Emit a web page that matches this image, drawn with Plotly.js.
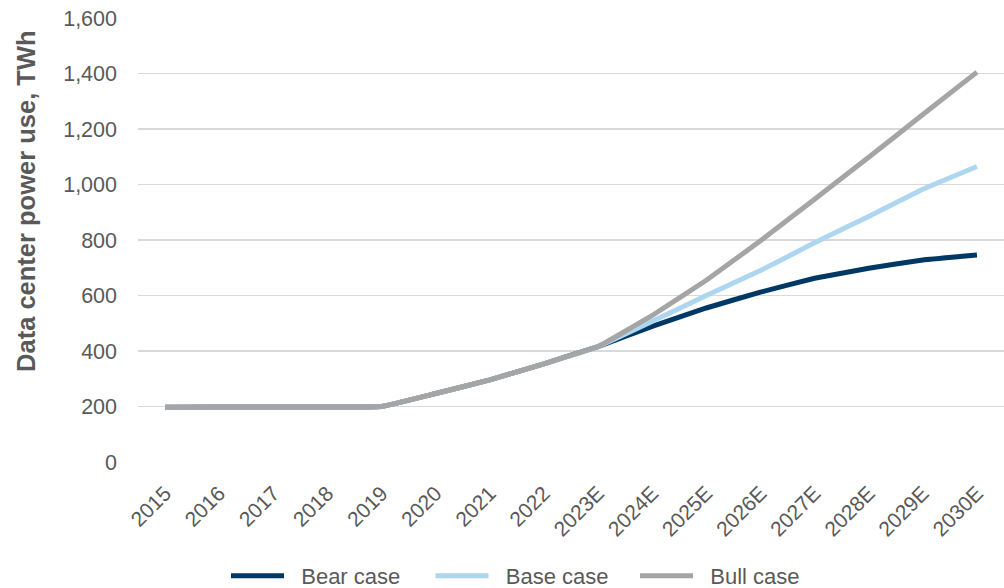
<!DOCTYPE html>
<html>
<head>
<meta charset="utf-8">
<script src="https://cdn.plot.ly/plotly-3.0.1.min.js"></script>
<style>html,body{margin:0;padding:0;background:#fff;}#chart{width:1004px;height:588px;}</style>
</head>
<body>
<div id="chart"></div>
<script>
const years = ["2015","2016","2017","2018","2019","2020","2021","2022","2023E","2024E","2025E","2026E","2027E","2028E","2029E","2030E"];
const bearCase = [197,198,198,198,200,247,296,354,416,489,555,612,662,698,728,746];
const baseCase = [197,198,198,198,200,247,296,354,416,507,600,690,790,885,983,1065];
const bullCase = [197,198,198,198,200,247,296,354,416,528,655,797,947,1098,1252,1405];
const seriesNames = ["Bear case","Base case","Bull case"];
const seriesColors = ["#003865","#AED6F1","#A5A5A5"];
const yTitle = "Data center power use, TWh";

const allSeries = [bearCase, baseCase, bullCase];
const traces = allSeries.map((vals, i) => ({
  type: "scatter",
  mode: "lines",
  x: years,
  y: vals,
  name: "\u00a0\u00a0" + seriesNames[i],
  line: {color: seriesColors[i], width: 5, shape: "spline", smoothing: 0.25},
  hoverinfo: "x+y+name"
}));

const layout = {
  width: 1004,
  height: 588,
  margin: {l: 138, r: 0, t: 18, b: 126},
  paper_bgcolor: "#ffffff",
  plot_bgcolor: "#ffffff",
  font: {family: "Arial, 'Liberation Sans', sans-serif", color: "#595959", size: 22},
  showlegend: true,
  legend: {
    orientation: "h",
    xref: "container", yref: "container",
    x: 0.2251, xanchor: "left",
    y: 0.0205, yanchor: "middle",
    font: {size: 22, color: "#595959"},
    itemwidth: 53,
    entrywidth: 136.5,
    entrywidthmode: "pixels",
    traceorder: "normal"
  },
  xaxis: {
    type: "category",
    range: [-0.5, 15.5],
    tickangle: -45,
    showgrid: false,
    zeroline: false,
    showline: false,
    ticks: "",
    ticklabelstandoff: 14,
    tickfont: {size: 21, color: "#595959"},
    automargin: false
  },
  yaxis: {
    range: [0, 1600],
    dtick: 200,
    tickformat: ",d",
    showgrid: true,
    gridcolor: "#D9D9D9",
    gridwidth: 1.5,
    zeroline: false,
    showline: false,
    ticks: "",
    ticklabelstandoff: 20,
    tickfont: {size: 21.5, color: "#595959"},
    automargin: false
  },
  annotations: [{
    text: "<b>" + yTitle + "</b>",
    xref: "paper", yref: "paper",
    x: -0.1293, y: 0.588,
    xanchor: "center", yanchor: "middle",
    textangle: -90,
    showarrow: false,
    font: {size: 25.5, color: "#595959", family: "Arial, 'Liberation Sans', sans-serif"}
  }]
};

Plotly.newPlot("chart", traces, layout, {displayModeBar: false, staticPlot: true});
</script>
</body>
</html>
